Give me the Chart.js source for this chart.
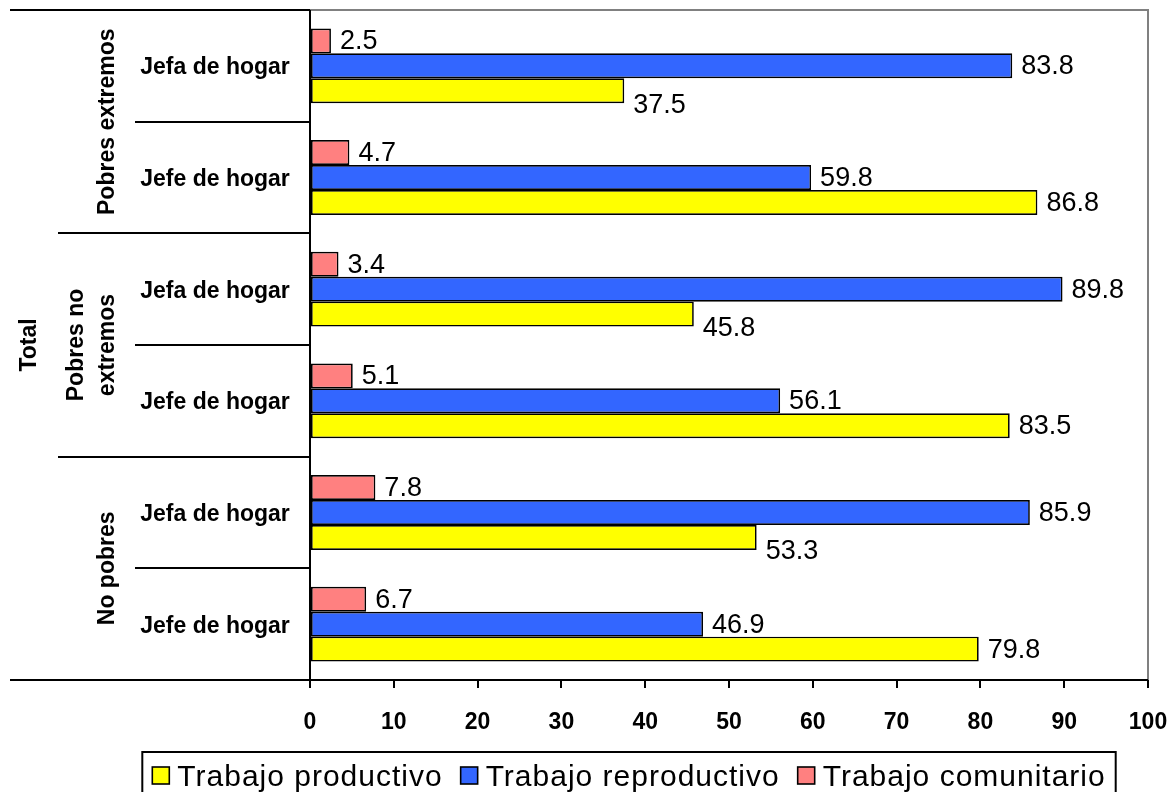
<!DOCTYPE html>
<html>
<head>
<meta charset="utf-8">
<script src="https://cdn.jsdelivr.net/npm/chart.js@4.4.1/dist/chart.umd.min.js"></script>
<style>
  html, body { margin: 0; padding: 0; background: #fff; }
</style>
</head>
<body>
<canvas id="chart" width="1172" height="792"></canvas>
<script>
// categories, top to bottom
const categories = ['Jefa de hogar', 'Jefe de hogar', 'Jefa de hogar', 'Jefe de hogar', 'Jefa de hogar', 'Jefe de hogar'];
// second level of the category axis, each covers two categories
const groupLabels = [['Pobres extremos'], ['Pobres no', 'extremos'], ['No pobres']];
const topLabel = 'Total';

const comunitario = [2.5, 4.7, 3.4, 5.1, 7.8, 6.7];
const reproductivo = [83.8, 59.8, 89.8, 56.1, 85.9, 46.9];
const productivo = [37.5, 86.8, 45.8, 83.5, 53.3, 79.8];

const seriesNames = ['Trabajo comunitario', 'Trabajo reproductivo', 'Trabajo productivo'];
const seriesColors = ['#FF8080', '#3366FF', '#FFFF00'];
const xTicks = [0, 10, 20, 30, 40, 50, 60, 70, 80, 90, 100];

const FONT = 'Arial, "Liberation Sans", sans-serif';

// value labels at the end of every bar
const valueLabels = {
    id: 'valueLabels',
    afterDatasetsDraw: function (chart) {
        var ctx = chart.ctx;
        ctx.save();
        ctx.font = '27px ' + FONT;
        ctx.fillStyle = '#000';
        ctx.textAlign = 'left';
        ctx.textBaseline = 'middle';
        chart.data.datasets.forEach(function (ds, di) {
            var meta = chart.getDatasetMeta(di);
            meta.data.forEach(function (bar, i) {
                var y = bar.y + 1;
                // when the bar above is longer the label drops below its own bar
                if (di > 0 && chart.data.datasets[di - 1].data[i] > ds.data[i]) {
                    y += bar.height / 2 + 1;
                }
                ctx.fillText(ds.data[i].toFixed(1), bar.x + 9, y);
            });
        });
        ctx.restore();
    }
};

// frame, multi level category axis and boxed legend
const frame = {
    id: 'frame',
    afterDraw: function (chart) {
        var ctx = chart.ctx;
        var area = chart.chartArea;
        var ys = chart.scales.y;
        var n = categories.length;
        var farLeft = area.left - 300;

        ctx.save();

        // outer border of plot
        ctx.strokeStyle = '#808080';
        ctx.lineWidth = 2;
        ctx.beginPath();
        ctx.moveTo(area.left, area.top);
        ctx.lineTo(area.right, area.top);
        ctx.lineTo(area.right, area.bottom);
        ctx.stroke();

        ctx.strokeStyle = '#000';
        ctx.lineWidth = 2;
        ctx.beginPath();
        ctx.moveTo(area.left, area.top);
        ctx.lineTo(area.left, area.bottom + 8);
        ctx.moveTo(farLeft, area.bottom);
        ctx.lineTo(area.right, area.bottom);
        ctx.stroke();

        // separators between categories
        var bounds = [];
        for (var i = 0; i <= n; i++) {
            if (i === 0) bounds.push(area.top);
            else if (i === n) bounds.push(area.bottom);
            else bounds.push((ys.getPixelForValue(i - 1) + ys.getPixelForValue(i)) / 2);
        }
        ctx.lineWidth = 1.8;
        ctx.beginPath();
        bounds.forEach(function (b, i) {
            var x0 = farLeft;
            if (i > 0 && i < n) x0 = (i % 2 === 0) ? area.left - 252 : area.left - 175;
            ctx.moveTo(x0, Math.round(b));
            ctx.lineTo(area.left, Math.round(b));
        });
        ctx.stroke();

        // category labels
        ctx.fillStyle = '#000';
        ctx.font = 'bold 23px ' + FONT;
        ctx.textAlign = 'center';
        ctx.textBaseline = 'middle';
        categories.forEach(function (c, i) {
            ctx.fillText(c, area.left - 95, ys.getPixelForValue(i) + 2);
        });

        // group labels, rotated
        groupLabels.forEach(function (lines, g) {
            var cy = (bounds[g * 2] + bounds[g * 2 + 2]) / 2;
            lines.forEach(function (line, k) {
                var cx = area.left - 202 - (lines.length - 1 - k) * 31;
                ctx.save();
                ctx.translate(cx, cy);
                ctx.rotate(-Math.PI / 2);
                ctx.fillText(line, 0, 0);
                ctx.restore();
            });
        });

        ctx.save();
        ctx.translate(area.left - 280, (area.top + area.bottom) / 2);
        ctx.rotate(-Math.PI / 2);
        ctx.fillText(topLabel, 0, 0);
        ctx.restore();

        // legend, reversed order
        ctx.font = '30px ' + FONT;
        try { ctx.letterSpacing = '1px'; } catch (e) {}
        ctx.textAlign = 'left';
        ctx.textBaseline = 'alphabetic';
        var order = [2, 1, 0];
        var box = 17, gapText = 8, gapItem = 18, pad = 10;
        var widths = order.map(function (d) { return ctx.measureText(seriesNames[d]).width; });
        var total = pad * 2;
        widths.forEach(function (w, k) { total += box + gapText + w + (k < widths.length - 1 ? gapItem : 0); });
        var lx = 629 - total / 2;
        ctx.lineWidth = 2;
        ctx.strokeStyle = '#000';
        ctx.strokeRect(lx, 752, total, 60);
        var x = lx + pad;
        order.forEach(function (d, k) {
            ctx.fillStyle = seriesColors[d];
            ctx.fillRect(x, 767, box, box);
            ctx.lineWidth = 1.6;
            ctx.strokeRect(x, 767, box, box);
            ctx.fillStyle = '#000';
            ctx.fillText(seriesNames[d], x + box + gapText, 786);
            x += box + gapText + widths[k] + gapItem;
        });

        ctx.restore();
    }
};

const seriesData = [comunitario, reproductivo, productivo];

new Chart(document.getElementById('chart').getContext('2d'), {
    type: 'bar',
    data: {
        labels: categories,
        datasets: seriesData.map(function (d, i) {
            return {
                label: seriesNames[i],
                data: d,
                backgroundColor: seriesColors[i],
                borderColor: '#000',
                borderWidth: 1.7,
                borderSkipped: false,
                categoryPercentage: 0.67,
                barPercentage: 1
            };
        })
    },
    options: {
        indexAxis: 'y',
        responsive: false,
        animation: false,
        layout: { padding: { left: 10, right: 24, top: 10, bottom: 0 } },
        scales: {
            x: {
                min: xTicks[0],
                max: xTicks[xTicks.length - 1],
                afterBuildTicks: function (scale) {
                    scale.ticks = xTicks.map(function (v) { return { value: v }; });
                },
                ticks: {
                    color: '#000',
                    padding: 21,
                    maxRotation: 0,
                    font: { family: FONT, size: 23, weight: 'bold' }
                },
                grid: { drawOnChartArea: false, tickLength: 8, color: '#000', lineWidth: 2 },
                border: { display: false },
                afterFit: function (scale) {
                    scale.height = 112;
                    // plot edge is set by the layout padding, not by the "100" label
                    scale.paddingLeft = 0;
                    scale.paddingRight = 0;
                }
            },
            y: {
                ticks: { display: false },
                grid: { display: false },
                border: { display: false },
                afterFit: function (scale) { scale.width = 300; }
            }
        },
        plugins: {
            legend: { display: false },
            tooltip: { enabled: false }
        }
    },
    plugins: [valueLabels, frame]
});
</script>
</body>
</html>
